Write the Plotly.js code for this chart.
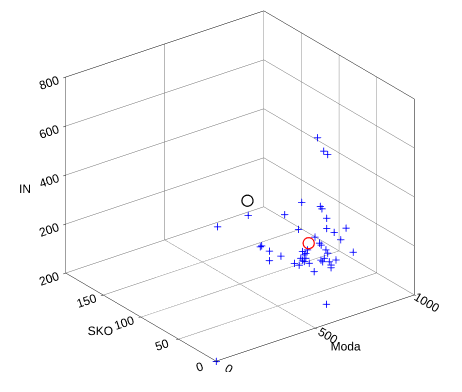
<!DOCTYPE html>
<html>
<head>
<meta charset="utf-8">
<script src="https://cdn.plot.ly/plotly-3.0.1.min.js"></script>
<style>
html,body{margin:0;padding:0;background:#fff;}
#chart{width:462px;height:392px;}
#info{position:absolute;left:0;top:0;font:11px sans-serif;color:#c00;z-index:10;}
</style>
</head>
<body>
<div id="info"></div>
<div id="chart"></div>
<script>
var info = document.getElementById('info');
window.onerror = function(m){ info.textContent += ' ERR:' + m; };

// Data
var moda = [0, 386, 389, 573, 659, 753, 761, 785, 643, 785, 823, 883, 856, 726, 749, 757, 919,
            450, 457, 496, 496, 554, 622, 646, 663, 672, 680, 688, 654, 663, 672, 680, 697, 722,
            781, 790, 756, 765, 773, 798, 807, 832, 807, 651, 739, 770, 790];
var sko  = [0, 100, 60, 60, 60, 60, 60, 60, 60, 60, 60, 60, 60, 60, 60, 60, 60,
            60, 60, 60, 60, 60, 60, 60, 60, 60, 60, 60, 60, 60, 60, 60, 60, 60,
            60, 60, 60, 60, 60, 60, 60, 60, 60, 25, 60, 60, 60];
var inn  = [0, 265, 383, 336, 363, 321, 309, 264, 257, 222, 196, 197, 157, 203, 172, 162, 89,
            238, 240, 208, 169, 172, 124, 110, 161, 145, 149, 161, 136, 126, 118, 129, 104, 63,
            136, 120, 101, 92, 104, 83, 67, 81, 56, 12, 605, 542, 523];
var blackModa = [384], blackSko = [60], blackIn = [444];
var redModa = [693], redSko = [60], redIn = [187];

var modaTicks = [0, 500, 1000];
var skoTicks  = [0, 50, 100, 150, 200];
var inTicks   = [0, 200, 400, 600, 800];

var blue = '#0000ff';
var traces = [
  {type:'scatter3d', mode:'markers', x:moda, y:sko, z:inn,
   marker:{symbol:'cross', size:4, color:blue}, hoverinfo:'skip'},
  {type:'scatter3d', mode:'markers', x:blackModa, y:blackSko, z:blackIn,
   marker:{symbol:'circle-open', size:7, color:'#000000'}, hoverinfo:'skip'},
  {type:'scatter3d', mode:'markers', x:redModa, y:redSko, z:redIn,
   marker:{symbol:'circle-open', size:7, color:'#ff0000'}, hoverinfo:'skip'}
];

var FONT = 'Liberation Sans, Arial, Helvetica, sans-serif';
function ax(title, range, ticks){
  return {
    title:{text:title, font:{family:FONT, size:12, color:'#000'}},
    range:range, autorange:false,
    tickmode:'array', tickvals:ticks, ticktext:ticks.map(String),
    tickfont:{family:FONT, size:12, color:'#000'},
    showgrid:true, gridcolor:'#6e6e6e', gridwidth:1,
    showline:true, linecolor:'#000', linewidth:1, mirror:true,
    ticks:'outside', ticklen:3, tickcolor:'#000',
    showbackground:false, showspikes:false, zeroline:false
  };
}

var e = [-0.541, -0.716, 0.443];
var k = 2.0;
var layout = {
  width:462, height:392,
  margin:{l:18, r:0, t:0, b:20},
  paper_bgcolor:'#fff',
  showlegend:false,
  scene:{
    xaxis:ax('Moda',[0,1000],modaTicks),
    yaxis:ax('SKO',[0,200],skoTicks),
    zaxis:ax('IN',[0,800],inTicks),
    aspectmode:'manual',
    aspectratio:{x:1.335, y:1.342, z:1.175},
    camera:{eye:{x:e[0]*k, y:e[1]*k, z:e[2]*k}, up:{x:0,y:0,z:1}, center:{x:0,y:0,z:0},
            projection:{type:'orthographic'}}
  }
};
try {
  Plotly.newPlot('chart', traces, layout, {displayModeBar:false}).then(null,
    function(err){ info.textContent += ' REJ:' + err; });
} catch(err) { info.textContent += ' CATCH:' + err; }
</script>
</body>
</html>
